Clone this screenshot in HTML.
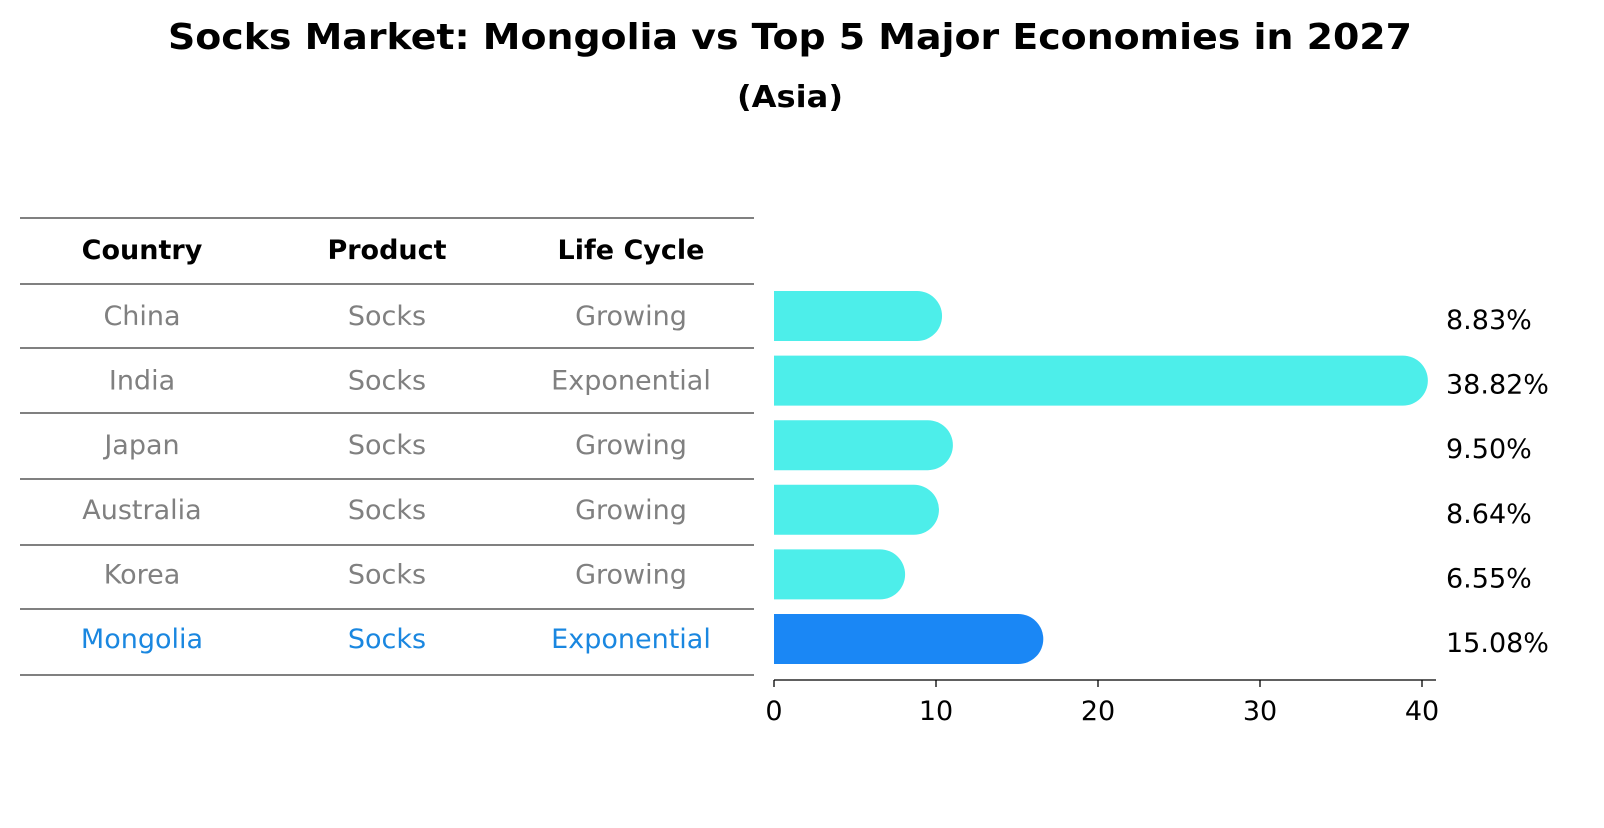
<!DOCTYPE html>
<html><head><meta charset="utf-8"><style>
body{margin:0;background:#fff;font-family:"Liberation Sans","DejaVu Sans",sans-serif;}
svg text{font-family:"DejaVu Sans","Liberation Sans",sans-serif;}
</style></head><body>
<svg id="c" width="1604" height="823" xmlns="http://www.w3.org/2000/svg">
<text x="790" y="49" text-anchor="middle" font-size="36" font-weight="bold" textLength="1244" lengthAdjust="spacingAndGlyphs">Socks Market: Mongolia vs Top 5 Major Economies in 2027</text>
<text x="790" y="107" text-anchor="middle" font-size="30" font-weight="bold" textLength="106" lengthAdjust="spacingAndGlyphs">(Asia)</text>
<g id="tbl"></g>
<g id="bars"></g>
<g id="axis"></g>
</svg>
<script>
const countries=["China","India","Japan","Australia","Korea","Mongolia"];
const products=["Socks","Socks","Socks","Socks","Socks","Socks"];
const lifeCycles=["Growing","Exponential","Growing","Growing","Growing","Exponential"];
const values=[8.83,38.82,9.50,8.64,6.55,15.08];
const valueLabels=["8.83%","38.82%","9.50%","8.64%","6.55%","15.08%"];
const ticks=[0,10,20,30,40];
const NS="http://www.w3.org/2000/svg";
function mk(t,a,p,txt){const e=document.createElementNS(NS,t);for(const k in a)e.setAttribute(k,a[k]);if(txt!==undefined)e.textContent=txt;p.appendChild(e);return e;}
const x=v=>774+v*16.2;
const rowY=i=>316+i*64.6;
const FS=27;
const tbl=document.getElementById('tbl'),bars=document.getElementById('bars'),axis=document.getElementById('axis');
const lines=[218,284,348,413,479,545,609,675];
lines.forEach(y=>{const l=mk('line',{x1:20,x2:754,y1:y,y2:y,stroke:'#000','stroke-width':1},tbl);
});
const cols=[142,387,631];
["Country","Product","Life Cycle"].forEach((h,j)=>{const t=mk('text',{x:cols[j],y:259,'text-anchor':'middle','font-size':FS,'font-weight':'bold'},tbl,h);
});
countries.forEach((c,i)=>{
 const col=c==="Mongolia"?"#1a87e0":"#808080";
 [c,products[i],lifeCycles[i]].forEach((s,j)=>{const t=mk('text',{x:cols[j],y:rowY(i)+9,'text-anchor':'middle','font-size':FS,fill:col},tbl,s);
 });
 const h=50,y0=rowY(i)-h/2,r=h/2,fill=c==="Mongolia"?"#1a87f5":"#4deeea";
 const xe=x(values[i]);
 const p=mk('path',{d:`M${x(0)},${y0}H${xe}A${r},${r} 0 0 1 ${xe},${y0+h}H${x(0)}Z`,fill:fill},bars);
 
 const t=mk('text',{x:1446,y:rowY(i)+13,'font-size':FS},bars,valueLabels[i]);
 
});
const al=mk('line',{x1:774,x2:1436,y1:680,y2:680,stroke:'#000','stroke-width':1.3},axis);

ticks.forEach(v=>{const l=mk('line',{x1:x(v),x2:x(v),y1:680,y2:687,stroke:'#000','stroke-width':1.3},axis);

const t=mk('text',{x:x(v),y:720,'text-anchor':'middle','font-size':FS},axis,String(v));
});
</script>
</body></html>
